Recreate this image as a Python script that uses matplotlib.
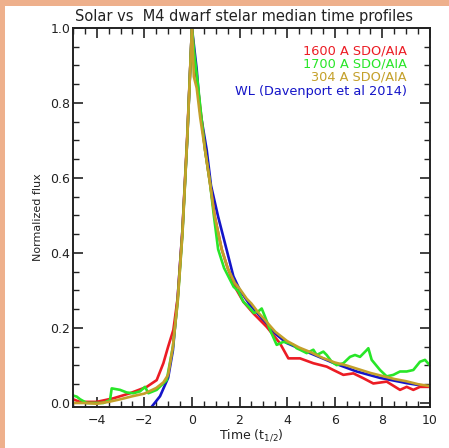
import matplotlib
matplotlib.use("Agg")
import matplotlib.pyplot as plt
from matplotlib.patches import Rectangle
from matplotlib.ticker import MultipleLocator

# ---- data ----
red_x = [-5, -4.7, -4.0, -3.3, -2.6, -1.9, -1.48, -1.2, -1.0, -0.78, -0.6, -0.4, -0.2, 0.0,
         0.1, 0.25, 0.4, 0.55, 0.76, 0.95, 1.25, 1.5, 1.75, 1.88, 2.16, 2.58, 3.14, 3.7, 4.05,
         4.54, 5.1, 5.66, 5.94, 6.36, 6.78, 7.2, 7.62, 8.18, 8.74, 9.02, 9.3, 9.58, 10.0]
red_y = [0.01, 0.003, 0.003, 0.0125, 0.026, 0.043, 0.061, 0.106, 0.15, 0.195, 0.28, 0.46, 0.71, 1.0,
         0.92, 0.84, 0.76, 0.675, 0.586, 0.5, 0.41, 0.36, 0.32, 0.301, 0.27, 0.239, 0.203, 0.159, 0.119,
         0.119, 0.106, 0.097, 0.088, 0.075, 0.079, 0.066, 0.052, 0.057, 0.035, 0.043, 0.035, 0.043, 0.043]

green_x = [-5, -4.84, -4.7, -4.42, -3.72, -3.44, -3.37, -3.02, -2.74, -2.46, -2.18, -1.97, -1.83,
           -1.48, -1.06, -0.8, -0.6, -0.4, -0.2, 0.0, 0.1, 0.25, 0.4, 0.55, 0.76, 0.92, 1.1, 1.35,
           1.67, 1.75, 1.95, 2.16, 2.4, 2.6, 2.8, 2.93, 3.07, 3.28, 3.56, 3.84, 4.05, 4.26, 4.4,
           4.54, 4.82, 5.1, 5.24, 5.52, 5.66, 5.87, 6.08, 6.36, 6.64, 6.85, 7.06, 7.34, 7.41, 7.55,
           7.9, 8.18, 8.46, 8.74, 9.02, 9.3, 9.58, 9.79, 10.0]
green_y = [0.02, 0.017, 0.01, 0.0, 0.0, 0.008, 0.039, 0.035, 0.028, 0.026, 0.031, 0.043, 0.026,
           0.035, 0.061, 0.15, 0.27, 0.45, 0.70, 1.0, 0.93, 0.85, 0.76, 0.675, 0.586, 0.5, 0.41, 0.36,
           0.32, 0.31, 0.298, 0.27, 0.255, 0.24, 0.245, 0.252, 0.23, 0.195, 0.155, 0.163, 0.16, 0.155, 0.146,
           0.142, 0.133, 0.142, 0.128, 0.137, 0.128, 0.11, 0.101, 0.106, 0.123, 0.128, 0.123, 0.141, 0.146, 0.115,
           0.088, 0.071, 0.075, 0.084, 0.084, 0.088, 0.11, 0.115, 0.10]

gold_x = [-5, -4.5, -4.0, -3.5, -3.0, -2.5, -2.0, -1.5, -1.2, -1.0, -0.8, -0.6, -0.4, -0.2, 0.0,
          0.08, 0.2, 0.35, 0.55, 0.76, 0.95, 1.25, 1.5, 1.8, 2.0, 2.3, 2.5, 2.8, 3.0, 3.5, 4.0, 4.5,
          5.0, 5.5, 6.0, 6.5, 7.0, 7.5, 8.0, 8.5, 9.0, 9.5, 10.0]
gold_y = [0.0, 0.0, -0.002, 0.003, 0.01, 0.018, 0.025, 0.04, 0.055, 0.075, 0.15, 0.27, 0.45, 0.70, 1.0,
          0.87, 0.84, 0.76, 0.675, 0.586, 0.5, 0.41, 0.36, 0.32, 0.305, 0.278, 0.265, 0.24, 0.226, 0.19, 0.165, 0.148,
          0.135, 0.12, 0.108, 0.1, 0.09, 0.08, 0.072, 0.064, 0.058, 0.05, 0.045]

blue_x = [-1.75, -1.69, -1.34, -1.0, -0.8, -0.6, -0.4, -0.2, 0.0, 0.2, 0.34, 0.62, 0.8, 1.1, 1.46,
          1.74, 2.02, 2.4, 2.86, 3.4, 3.98, 4.96, 5.94, 6.92, 7.9, 9.02, 10.0]
blue_y = [-0.02, -0.01, 0.018, 0.067, 0.14, 0.28, 0.46, 0.70, 1.0, 0.89, 0.78, 0.675, 0.58, 0.497, 0.408,
          0.338, 0.30, 0.265, 0.231, 0.19, 0.16, 0.133, 0.107, 0.084, 0.067, 0.053, 0.043]

legend_labels = ["1600 A SDO/AIA", "1700 A SDO/AIA", "304 A SDO/AIA", "WL (Davenport et al 2014)"]

C_RED = "#ec1c24"
C_GREEN = "#28e628"
C_GOLD = "#c4a02a"
C_BLUE = "#1414c8"

fig = plt.figure(figsize=(4.49, 4.48), dpi=100, facecolor="#eeb08c")
bg = Rectangle((5 / 449, 0), 1, 1 - 6 / 448, transform=fig.transFigure,
               facecolor="white", edgecolor="none", zorder=-10)
fig.add_artist(bg)

ax = fig.add_axes([72.9 / 449, 41 / 448, (430 - 72.9) / 449, (407 - 28) / 448])
ax.set_zorder(5)
ax.set_facecolor("white")

lw = 1.9
ax.plot(blue_x, blue_y, color=C_BLUE, lw=lw)
ax.plot(red_x, red_y, color=C_RED, lw=lw)
ax.plot(green_x, green_y, color=C_GREEN, lw=lw)
ax.plot(gold_x, gold_y, color=C_GOLD, lw=lw)

ax.set_xlim(-5, 10)
ax.set_ylim(-0.0107, 1.0)
ax.xaxis.set_major_locator(MultipleLocator(2))
ax.xaxis.set_minor_locator(MultipleLocator(0.5))
ax.yaxis.set_major_locator(MultipleLocator(0.2))
ax.yaxis.set_minor_locator(MultipleLocator(0.05))
ax.set_xticks([-4, -2, 0, 2, 4, 6, 8, 10])
ax.set_xticklabels(["\u22124", "\u22122", "0", "2", "4", "6", "8", "10"])
ax.set_yticks([0.0, 0.2, 0.4, 0.6, 0.8, 1.0])
ax.set_yticklabels(["0.0", "0.2", "0.4", "0.6", "0.8", "1.0"])
ax.tick_params(which="both", direction="in", top=True, right=True, color="#222222",
               labelsize=9, labelcolor="#222222")
ax.tick_params(which="major", length=7, width=1.2)
ax.tick_params(axis="y", which="major", pad=2)
ax.tick_params(axis="x", which="major", pad=5)
ax.tick_params(which="minor", length=4, width=1.0)
for s in ax.spines.values():
    s.set_linewidth(1.4)
    s.set_color("#222222")

fig.text(244 / 449, 1 - 17 / 448, "Solar vs  M4 dwarf stelar median time profiles",
         fontsize=10.5, color="#222222", ha="center", va="center", zorder=10)
ax.set_xlabel("Time (t$_{1/2}$)", fontsize=9, color="#222222", labelpad=0)
ax.set_ylabel("Normalized flux", fontsize=8, color="#222222", labelpad=5)

ys = [0.940, 0.905, 0.870, 0.833]
for lab, col, yy in zip(legend_labels, [C_RED, C_GREEN, C_GOLD, C_BLUE], ys):
    ax.text(0.935, yy, lab, transform=ax.transAxes, ha="right", va="center",
            fontsize=9.3, color=col)

fig.savefig("out.png", dpi=100, facecolor=fig.get_facecolor())
